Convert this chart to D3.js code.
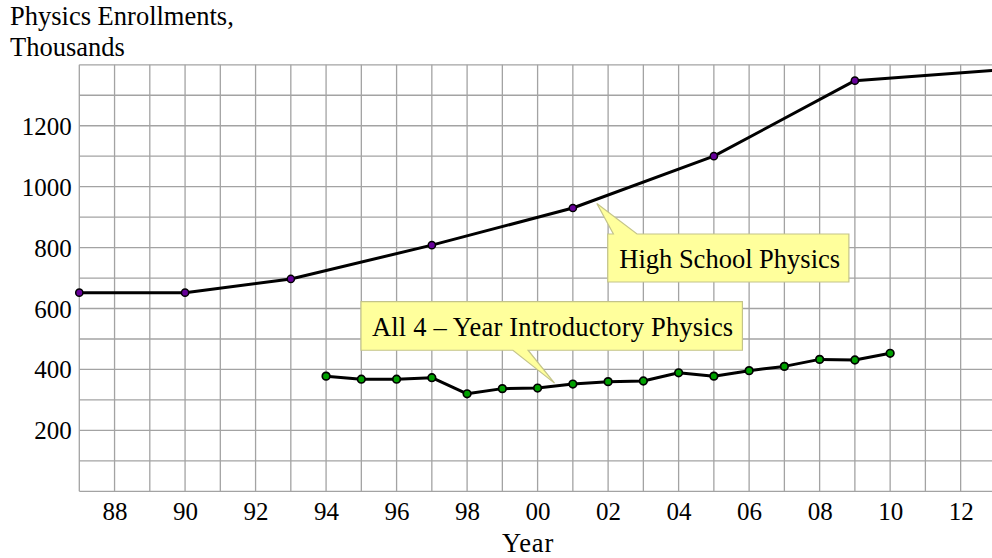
<!DOCTYPE html>
<html>
<head>
<meta charset="utf-8">
<script src="https://cdn.jsdelivr.net/npm/d3@7"></script>
<style>
  html, body { margin: 0; padding: 0; background: #fff; }
  svg { display: block; }
  text { font-family: "Liberation Serif", "Times New Roman", serif; fill: #000; }
</style>
</head>
<body>
<svg id="chart" width="992" height="558"></svg>
<script>
// ---- data ----
const hsYears  = [1987, 1990, 1993, 1997, 2001, 2005, 2009, 2013];
const hsValues = [652, 652, 697, 808, 930, 1100, 1348, 1382];

const introYears  = [1994, 1995, 1996, 1997, 1998, 1999, 2000, 2001, 2002, 2003, 2004, 2005, 2006, 2007, 2008, 2009, 2010];
const introValues = [378, 368, 368, 373, 320, 337, 339, 352, 360, 362, 389, 378, 396, 410, 433, 431, 453];

const xTickYears  = [1988, 1990, 1992, 1994, 1996, 1998, 2000, 2002, 2004, 2006, 2008, 2010, 2012];
const xTickLabels = ["88", "90", "92", "94", "96", "98", "00", "02", "04", "06", "08", "10", "12"];
const yTickValues = [200, 400, 600, 800, 1000, 1200];

const titleLines = ["Physics Enrollments,", "Thousands"];
const xAxisTitle = "Year";
const hsLabel = "High School Physics";
const introLabel = "All 4 \u2013 Year Introductory Physics";

// ---- scales ----
const svg = d3.select("#chart");
const x = d3.scaleLinear().domain([1987, 2013]).range([79.3, 995.9]);
const y = d3.scaleLinear().domain([0, 1400]).range([491.3, 64.8]);

const gridColor = "#a3a3a3";

// grid
const g = svg.append("g");
g.selectAll("line.v").data(d3.range(1987, 2014)).join("line")
  .attr("x1", d => x(d)).attr("x2", d => x(d))
  .attr("y1", y(0)).attr("y2", y(1400))
  .attr("stroke", gridColor).attr("stroke-width", 1.3);
g.selectAll("line.h").data(d3.range(0, 1401, 100)).join("line")
  .attr("x1", x(1987)).attr("x2", x(2013))
  .attr("y1", d => y(d)).attr("y2", d => y(d))
  .attr("stroke", gridColor).attr("stroke-width", 1.3);

// axes (labels only)
const xAxis = d3.axisBottom(x).tickValues(xTickYears)
  .tickFormat((d, i) => xTickLabels[i]).tickSize(0).tickPadding(0);
const xg = svg.append("g").attr("transform", `translate(0,${y(0)})`).call(xAxis);
xg.select(".domain").remove();
xg.selectAll("text").attr("dy", null).attr("y", 29)
  .style("font-family", '"Liberation Serif", serif').style("font-size", "25px").attr("fill", "#000");

const yAxis = d3.axisLeft(y).tickValues(yTickValues).tickSize(0).tickPadding(0).tickFormat(d3.format("d"));
const yg = svg.append("g").attr("transform", `translate(${x(1987) - 7.5},0)`).call(yAxis);
yg.select(".domain").remove();
yg.selectAll("text").attr("dy", "0.34em")
  .style("font-family", '"Liberation Serif", serif').style("font-size", "25px").attr("fill", "#000");

// titles
svg.append("text").attr("x", 10).attr("y", 0).style("font-size", "26.5px")
  .selectAll("tspan").data(titleLines).join("tspan")
  .attr("x", 10).attr("y", (d, i) => 25 + i * 31).text(d => d);

svg.append("text").attr("x", 528).attr("y", 552).attr("text-anchor", "middle")
  .style("font-size", "26.5px").style("letter-spacing", "0.8px").text(xAxisTitle);

// lines
const line = d3.line().x(d => x(d[0])).y(d => y(d[1]));
const hsData = hsYears.map((d, i) => [d, hsValues[i]]);
const introData = introYears.map((d, i) => [d, introValues[i]]);

svg.append("path").datum(hsData).attr("d", line)
  .attr("fill", "none").attr("stroke", "#000").attr("stroke-width", 3).attr("stroke-linejoin", "round");
svg.append("path").datum(introData).attr("d", line)
  .attr("fill", "none").attr("stroke", "#000").attr("stroke-width", 3).attr("stroke-linejoin", "round");

svg.selectAll("circle.hs").data(hsData.slice(0, -1)).join("circle")
  .attr("cx", d => x(d[0])).attr("cy", d => y(d[1])).attr("r", 3.6)
  .attr("fill", "#660099").attr("stroke", "#000").attr("stroke-width", 1.5);
svg.selectAll("circle.intro").data(introData).join("circle")
  .attr("cx", d => x(d[0])).attr("cy", d => y(d[1])).attr("r", 3.8)
  .attr("fill", "#00a000").attr("stroke", "#000").attr("stroke-width", 1.7);

// callouts (anchored in data space)
function callout(box, base, tip, label, textX, textY, pointerTop, ls) {
  const x0 = x(box[0]), x1 = x(box[2]), y0 = y(box[1]), y1 = y(box[3]);
  const b0 = x(base[0]), b1 = x(base[1]);
  const tx = x(tip[0]), ty = y(tip[1]);
  let pts;
  if (pointerTop) {
    pts = [[x0, y0], [b0, y0], [tx, ty], [b1, y0], [x1, y0], [x1, y1], [x0, y1]];
  } else {
    pts = [[x0, y0], [x1, y0], [x1, y1], [b1, y1], [tx, ty], [b0, y1], [x0, y1]];
  }
  svg.append("path").attr("d", "M" + pts.map(p => p.join(",")).join("L") + "Z")
    .attr("fill", "#ffff9c").attr("stroke", "#c4c48a").attr("stroke-width", 1.2);
  svg.append("text").attr("x", x0 + textX).attr("y", y0 + textY)
    .style("font-size", "26.5px").style("letter-spacing", ls + "px").text(label);
}

callout([2001.99, 844.6, 2008.83, 687], [2002.15, 2002.82], [2001.68, 945], hsLabel, 11.5, 34, true, 0);
callout([1994.99, 622.7, 2005.81, 463], [1999.3, 1999.73], [2000.48, 355], introLabel, 11, 34.5, false, 0.2);
</script>
</body>
</html>
